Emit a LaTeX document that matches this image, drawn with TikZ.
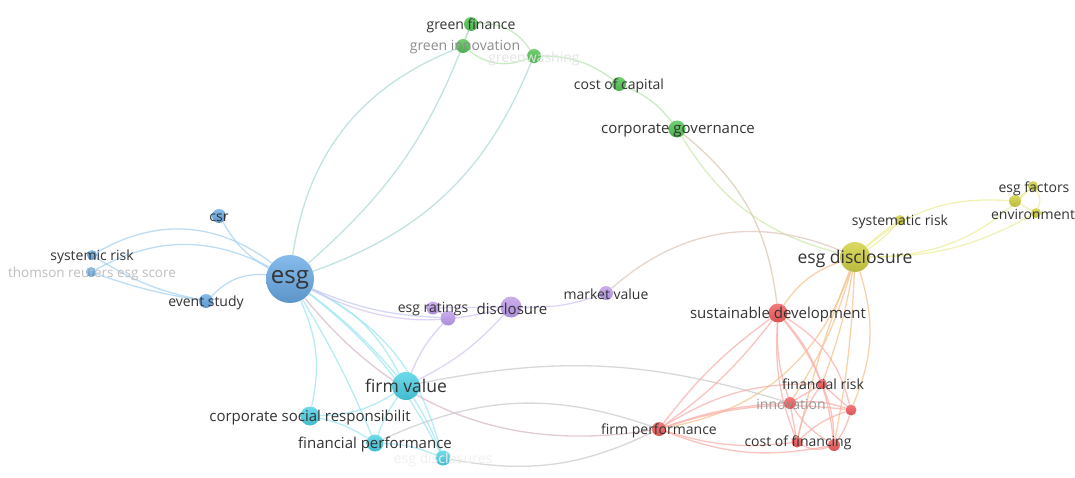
\documentclass[tikz,border=0pt]{standalone}
\usepackage{fontspec}
\setmainfont{Open Sans}
\usetikzlibrary{backgrounds}

\definecolor{blueT}{HTML}{7DB6EA}\definecolor{blueB}{HTML}{4E8CC6}
\definecolor{cyanT}{HTML}{62D8E8}\definecolor{cyanB}{HTML}{33B6CB}
\definecolor{greenT}{HTML}{66CC66}\definecolor{greenB}{HTML}{3DA83D}
\definecolor{purpT}{HTML}{C9A9EE}\definecolor{purpB}{HTML}{A484D6}
\definecolor{yelT}{HTML}{D8D858}\definecolor{yelB}{HTML}{B4B42E}
\definecolor{redT}{HTML}{F27070}\definecolor{redB}{HTML}{D84444}
\definecolor{eBlue}{HTML}{A6D2F2}
\definecolor{eCyan}{HTML}{9FE6F2}
\definecolor{eGreen}{HTML}{B8E6B2}
\definecolor{ePurp}{HTML}{D6C6F3}
\definecolor{eYel}{HTML}{EEEE9E}
\definecolor{eRed}{HTML}{F9AFAA}
\definecolor{eOrange}{HTML}{F6C48E}
\definecolor{eMix}{HTML}{D8B8C8}
\definecolor{lblText}{HTML}{333333}

\tikzset{
  kw/.style={circle, inner sep=0pt, minimum size=#1, opacity=.92},
  kwblue/.style={kw=#1, top color=blueT, bottom color=blueB},
  kwcyan/.style={kw=#1, top color=cyanT, bottom color=cyanB},
  kwgreen/.style={kw=#1, top color=greenT, bottom color=greenB},
  kwpurp/.style={kw=#1, top color=purpT, bottom color=purpB},
  kwyel/.style={kw=#1, top color=yelT, bottom color=yelB},
  kwred/.style={kw=#1, top color=redT, bottom color=redB},
  lbl/.style={inner sep=0pt, yshift=-1.5pt, text=lblText, font=\fontsize{14}{14}\selectfont},
  lblm/.style={lbl, font=\fontsize{15}{15}\selectfont},
  lblb/.style={lbl, font=\fontsize{17.5}{17.5}\selectfont},
  link/.style={line width=1.3pt, opacity=.75},
}

\begin{document}
\begin{tikzpicture}[x=1pt, y=-1pt]
\useasboundingbox (0,0) rectangle (1075,478);

% esg cluster
\node[kwblue=48] (esg) at (290,279) {};
\node[kwblue=14] (csr) at (219,216) {};
\node[kwblue=10] (sysr) at (92,255) {};
\node[kwblue=10] (trs) at (91,272) {};
\node[kwblue=14] (evs) at (206,301) {};
% green cluster
\node[kwgreen=14] (gfin) at (471,24) {};
\node[kwgreen=14] (ginn) at (463,46) {};
\node[kwgreen=14] (gwash) at (534,56) {};
\node[kwgreen=14] (coc) at (619,84) {};
\node[kwgreen=17] (cgov) at (677,129) {};
% purple cluster
\node[kwpurp=13] (rat) at (433,308) {};
\node[kwpurp=15] (purp) at (448,318) {};
\node[kwpurp=21] (disc) at (511,307) {};
\node[kwpurp=14] (mval) at (606,293) {};
% firm value cluster
\node[kwcyan=28] (fv) at (406,386) {};
\node[kwcyan=19] (csrl) at (310,416) {};
\node[kwcyan=17] (fperf) at (375,443) {};
\node[kwcyan=15] (esgds) at (443,458) {};
% esg disclosure cluster
\node[kwyel=30] (esgd) at (855,257) {};
\node[kwyel=10] (sysm) at (900,220) {};
\node[kwyel=12] (yel) at (1015,201) {};
\node[kwyel=10] (esgf) at (1033,186) {};
\node[kwyel=10] (env) at (1036,213) {};
% sustainable development cluster
\node[kwred=19] (sdev) at (778,313) {};
\node[kwred=14] (firmp) at (659,429) {};
\node[kwred=10] (frisk) at (822,384) {};
\node[kwred=12] (innov) at (790,403) {};
\node[kwred=11] (cof) at (797,442) {};
\node[kwred=12] (redc) at (834,445) {};
\node[kwred=11] (redd) at (851,410) {};

% labels
\node[lbl] (gfin-t) at (471,24) {green finance};
\node[lbl, text=black!45] (ginn-t) at (465,46) {green innovation};
\node[lbl, text=black!10] (gwash-t) at (534,57) {greenwashing};
\node[lbl] (coc-t) at (619,84) {cost of capital};
\node[lblm] (cgov-t) at (678,129) {corporate governance};
\node[lbl] (csr-t) at (219,216) {csr};
\node[lbl] (sysr-t) at (92,255) {systemic risk};
\node[lbl, text=black!25, font=\fontsize{13.5}{13.5}\selectfont] (trs-t) at (92,272) {thomson reuters esg score};
\node[lbl] (evs-t) at (206,301) {event study};
\node[lbl, font=\fontsize{24}{24}\selectfont] (esg-t) at (290,278) {esg};
\node[lbl] (rat-t) at (433,308) {esg ratings};
\node[lblm] (disc-t) at (512,307) {disclosure};
\node[lbl] (mval-t) at (606,293) {market value};
\node[lblb] (esgd-t) at (855,257) {esg disclosure};
\node[lbl] (sysm-t) at (900,220) {systematic risk};
\node[lbl] (esgf-t) at (1034,187) {esg factors};
\node[lbl] (env-t) at (1033,213) {environment};
\node[lblm] (sdev-t) at (778,313) {sustainable development};
\node[lblb] (fv-t) at (406,384) {firm value};
\node[lblm] (csrl-t) at (310,416) {corporate social responsibilit};
\node[lblm] (fperf-t) at (375,443) {financial performance};
\node[lbl, text=black!6] (esgds-t) at (443,458) {esg disclosures};
\node[lbl] (firmp-t) at (659,429) {firm performance};
\node[lbl] (frisk-t) at (823,383) {financial risk};
\node[lbl, text=black!40] (innov-t) at (791,403) {innovation};
\node[lbl] (cof-t) at (798,441) {cost of financing};

\begin{scope}[on background layer]
\fill[white] (0,0) rectangle (1075,478);
% esg links
\draw[link, eBlue] (esg) to[bend left=15] (csr);
\draw[link, eBlue] (esg) to[bend right=34] (sysr);
\draw[link, eBlue] (esg) to[bend right=28] (trs);
\draw[link, eBlue] (sysr) to[bend right=10] (evs);
\draw[link, eBlue] (trs) to[bend right=5] (evs);
\draw[link, eBlue] (evs) to[bend left=25] (esg);
\draw[link, eBlue!60!eGreen] (esg) to[bend left=30] (ginn);
\draw[link, eBlue!60!eGreen] (esg) to[bend right=14] (gfin);
\draw[link, eBlue!60!eGreen] (esg) to[bend right=24] (gwash);
\draw[link, eCyan] (esg) to[bend left=18] (fv);
\draw[link, eCyan] (esg) to[bend left=6] (fv);
\draw[link, eCyan] (esg) to[bend left=18] (csrl);
\draw[link, eCyan] (esg) to[bend left=4] (fperf);
\draw[link, eCyan] (esg) to[bend left=12] (esgds);
\draw[link, eCyan] (esg) to[bend left=24] (esgds);
\draw[link, ePurp] (esg) to[bend right=20] (disc);
\draw[link, ePurp!70!eBlue] (esg) to[bend right=10] (purp);
\draw[link, eMix] (esg) to[bend right=30] (firmp);
% green links
\draw[link, eGreen] (gfin) -- (ginn);
\draw[link, eGreen] (gfin) to[bend left=30] (gwash);
\draw[link, eGreen] (ginn) to[bend right=30] (gwash);
\draw[link, eGreen] (gwash) to[bend left=18] (coc);
\draw[link, eGreen] (coc) to[bend left=15] (cgov);
\draw[link, eGreen!60!eYel] (cgov) to[bend right=22] (esgd);
\draw[link, eGreen!50!eRed] (cgov) to[bend left=22] (sdev);
% purple links
\draw[link, ePurp] (rat) -- (purp);
\draw[link, ePurp] (rat) -- (disc);
\draw[link, ePurp] (purp) to[bend right=10] (fv);
\draw[link, ePurp] (disc) to[bend left=10] (fv);
\draw[link, ePurp] (disc) to[bend right=10] (mval);
\draw[link, eMix!70!eYel] (mval) to[bend left=32] (esgd);
% firm value links
\draw[link, eCyan] (fv) to[bend left=15] (csrl);
\draw[link, eCyan] (fv) to[bend right=8] (fperf);
\draw[link, eCyan] (fv) to[bend left=5] (esgds);
\draw[link, eCyan] (csrl) to[bend left=10] (fperf);
\draw[link, eCyan] (fperf) to[bend left=10] (esgds);
\draw[link, eCyan!50!eRed] (fperf) to[bend left=22] (firmp);
\draw[link, eCyan!50!eRed] (esgds) to[bend right=18] (firmp);
\draw[link, eCyan!50!eRed] (fv) to[bend left=14] (innov);
% esg disclosure links
\draw[link, eYel] (esgd) to[bend right=8] (sysm);
\draw[link, eYel] (esgd) to[bend left=4] (sysm);
\draw[link, eYel] (esgd) to[bend left=22] (yel);
\draw[link, eYel] (esgd) to[bend right=14] (env);
\draw[link, eYel] (esgd) to[bend right=22] (esgf);
\draw[link, eYel] (yel) -- (esgf);
\draw[link, eYel] (yel) -- (env);
\draw[link, eYel] (esgf) to[bend left=30] (env);
\draw[link, eOrange] (esgd) to[bend right=18] (sdev);
\draw[link, eOrange] (esgd) to[bend left=30] (firmp);
\draw[link, eOrange] (esgd) to[bend left=5] (frisk);
\draw[link, eOrange] (esgd) to[bend left=8] (innov);
\draw[link, eOrange] (esgd) to[bend right=4] (cof);
\draw[link, eOrange] (esgd) to[bend left=4] (redc);
\draw[link, eOrange] (esgd) to[bend left=20] (redd);
% sustainable development links
\draw[link, eRed] (firmp) to[bend right=8] (sdev);
\draw[link, eRed] (firmp) to[bend left=8] (sdev);
\draw[link, eRed] (firmp) to[bend left=16] (frisk);
\draw[link, eRed] (firmp) to[bend left=8] (innov);
\draw[link, eRed] (firmp) to[bend left=12] (redd);
\draw[link, eRed] (firmp) to[bend right=12] (cof);
\draw[link, eRed] (firmp) to[bend right=16] (redc);
\draw[link, eRed] (sdev) to[bend left=10] (frisk);
\draw[link, eRed] (sdev) to[bend right=10] (innov);
\draw[link, eRed] (sdev) to[bend right=12] (cof);
\draw[link, eRed] (sdev) to[bend left=16] (redc);
\draw[link, eRed] (sdev) to[bend left=22] (redd);
\draw[link, eRed] (frisk) -- (innov);
\draw[link, eRed] (frisk) to[bend right=12] (cof);
\draw[link, eRed] (frisk) to[bend left=10] (redc);
\draw[link, eRed] (frisk) -- (redd);
\draw[link, eRed] (innov) -- (cof);
\draw[link, eRed] (innov) to[bend right=12] (redc);
\draw[link, eRed] (innov) to[bend left=12] (redd);
\draw[link, eRed] (cof) to[bend left=12] (redd);
\draw[link, eRed] (redc) to[bend right=10] (redd);
\draw[link, eRed] (cof) to[bend right=25] (redc);
\end{scope}
\end{tikzpicture}
\end{document}
